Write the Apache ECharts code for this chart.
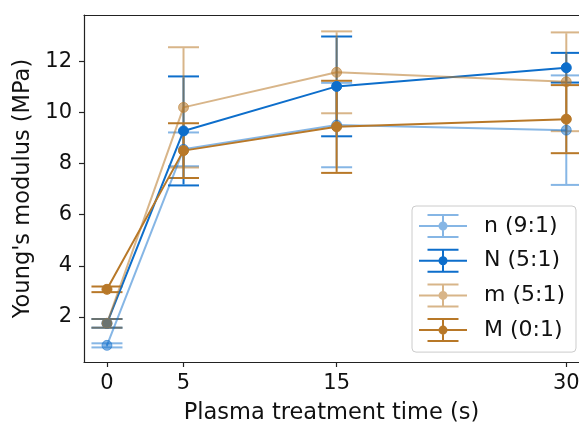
<!DOCTYPE html>
<html>
<head>
<meta charset="utf-8">
<script src="https://cdn.jsdelivr.net/npm/echarts@6/dist/echarts.min.js"></script>
<style>html,body{margin:0;padding:0;background:#fff;}#c{width:579px;height:423px;}</style>
</head>
<body>
<div id="c"></div>
<script>
// ---- data ----
var times = [0, 5, 15, 30];
var xTicks = [0, 5, 15, 30];
var yTicks = [2, 4, 6, 8, 10, 12];
var seriesNames = ['n (9:1)', 'N (5:1)', 'm (5:1)', 'M (0:1)'];
var n_vals = [0.89, 8.55, 9.50, 9.30];
var n_errs = [0.08, 0.66, 1.65, 2.14];
var N_vals = [1.75, 9.27, 11.01, 11.74];
var N_errs = [0.17, 2.13, 1.95, 0.58];
var m_vals = [1.75, 10.19, 11.56, 11.19];
var m_errs = [0.17, 2.35, 1.60, 1.93];
var M_vals = [3.08, 8.50, 9.43, 9.73];
var M_errs = [0.11, 1.07, 1.80, 1.33];

var colors = ['rgba(13,110,203,0.5)', '#0d6ecb', 'rgba(184,120,40,0.55)', '#b87828'];
var allVals = [n_vals, N_vals, m_vals, M_vals];
var allErrs = [n_errs, N_errs, m_errs, M_errs];

var FONT = 'DejaVu Sans';
var legendIcon = 'path://M0 11H48V13H0Z M23 0H25V24H23Z M8.5 0H39.5V2H8.5Z M8.5 22H39.5V24H8.5Z M19.5 12A4.5 4.5 0 1 1 28.5 12A4.5 4.5 0 1 1 19.5 12Z';

function errSeries(idx) {
  var col = colors[idx];
  var data = times.map(function (t, i) { return [t, allVals[idx][i], allErrs[idx][i]]; });
  return {
    type: 'custom',
    name: seriesNames[idx] + ' err',
    data: data,
    encode: { x: 0, y: 1 },
    clip: false,
    silent: true,
    z: 2,
    renderItem: function (params, api) {
      var x = api.value(0), y = api.value(1), e = api.value(2);
      var top = api.coord([x, y + e]);
      var bot = api.coord([x, y - e]);
      var hw = 15.5;
      var st = { stroke: col, lineWidth: 2 };
      return {
        type: 'group',
        children: [
          { type: 'line', shape: { x1: top[0], y1: top[1] + 1, x2: bot[0], y2: bot[1] - 1 }, style: st },
          { type: 'line', shape: { x1: top[0] - hw, y1: top[1], x2: top[0] + hw, y2: top[1] }, style: st },
          { type: 'line', shape: { x1: bot[0] - hw, y1: bot[1], x2: bot[0] + hw, y2: bot[1] }, style: st }
        ]
      };
    }
  };
}
function lineSeries(idx) {
  var col = colors[idx];
  return {
    type: 'line',
    name: seriesNames[idx],
    data: times.map(function (t, i) { return [t, allVals[idx][i]]; }),
    symbol: 'circle',
    symbolSize: 10,
    showSymbol: true,
    clip: false,
    z: 2,
    lineStyle: { color: col, width: 2 },
    itemStyle: { color: col, borderColor: col, borderWidth: 1 },
    emphasis: { disabled: true }
  };
}

var series = [];
for (var i = 0; i < 4; i++) { series.push(errSeries(i)); series.push(lineSeries(i)); }

var spine = { color: '#222', width: 1.2 };
var chart = echarts.init(document.getElementById('c'), null, { renderer: 'canvas' });
chart.setOption({
  animation: false,
  backgroundColor: '#fff',
  textStyle: { fontFamily: FONT },
  grid: { left: 84, top: 15, right: 0, bottom: 61, show: false, containLabel: false, outerBoundsMode: 'none' },
  xAxis: [{
    type: 'value', min: -1.5, max: 30.83,
    name: 'Plasma treatment time (s)', nameLocation: 'middle', nameGap: 40,
    nameTextStyle: { fontSize: 22.5, color: '#111', fontFamily: FONT },
    axisLine: { show: true, onZero: false, lineStyle: spine },
    axisTick: { show: true, inside: false, length: 5, lineStyle: spine, customValues: xTicks },
    axisLabel: { fontSize: 21, color: '#111', margin: 11, fontFamily: FONT, customValues: xTicks },
    splitLine: { show: false }
  }, {
    type: 'value', position: 'top', min: -1.5, max: 30.83,
    axisLine: { show: true, onZero: false, lineStyle: spine },
    axisTick: { show: false }, axisLabel: { show: false }, splitLine: { show: false }
  }],
  yAxis: {
    type: 'value', min: 0.24, max: 13.8,
    name: "Young's modulus (MPa)", nameLocation: 'middle', nameGap: 40,
    nameTextStyle: { fontSize: 22.5, color: '#111', fontFamily: FONT },
    axisLine: { show: true, onZero: false, lineStyle: spine },
    axisTick: { show: true, inside: false, length: 5, lineStyle: spine, customValues: yTicks },
    axisLabel: { fontSize: 21, color: '#111', margin: 12, fontFamily: FONT, customValues: yTicks },
    splitLine: { show: false }
  },
  legend: {
    orient: 'vertical',
    left: 412, top: 206,
    padding: [8, 11, 10, 7],
    itemGap: 10.7,
    itemWidth: 48, itemHeight: 24,
    backgroundColor: 'rgba(255,255,255,0.8)',
    borderColor: '#cccccc', borderWidth: 1, borderRadius: 4,
    itemStyle: { borderWidth: 0 },
    textStyle: { fontSize: 22, color: '#111', fontFamily: FONT, lineHeight: 24, padding: [0, 0, 0, 12] },
    selectedMode: false,
    data: seriesNames.map(function (nm) { return { name: nm, icon: legendIcon }; })
  },
  series: series
});
</script>
</body>
</html>
